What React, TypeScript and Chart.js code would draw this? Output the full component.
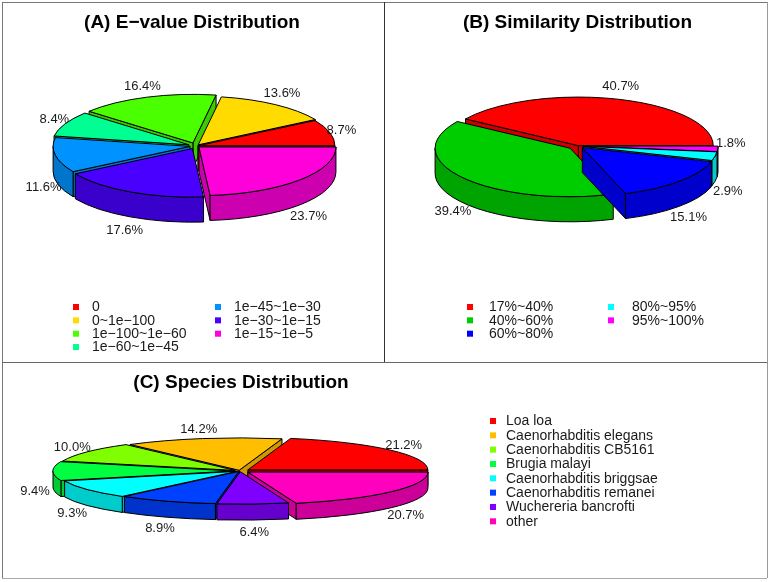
import React, { useEffect, useRef } from "react";
import { Chart, registerables } from "chart.js";

Chart.register(...registerables);

const FONT = '"Liberation Sans", Arial, sans-serif';

// (A) E-value
const evalueLabels = ["0", "0~1e−100", "1e−100~1e−60", "1e−60~1e−45", "1e−45~1e−30", "1e−30~1e−15", "1e−15~1e−5"];
const evalueValues = [8.7, 13.6, 16.4, 8.4, 11.6, 17.6, 23.7];
const evalueColors = ["#FF0000", "#FFDB00", "#49FF00", "#00FF92", "#0092FF", "#4900FF", "#FF00DB"];
const evalueExplode = [2, 4, 9, 8, 6, 8, 4];

// (B) Similarity
const similarityLabels = ["17%~40%", "40%~60%", "60%~80%", "80%~95%", "95%~100%"];
const similarityValues = [40.7, 39.4, 15.1, 2.9, 1.8];
const similarityColors = ["#FF0000", "#00CD00", "#0000FF", "#00FFFF", "#FF00FF"];
const similarityExplode = [1, 10, 6, 5, 5];

// (C) Species
const speciesLabels = ["Loa loa", "Caenorhabditis elegans", "Caenorhabditis CB5161", "Brugia malayi", "Caenorhabditis briggsae", "Caenorhabditis remanei", "Wuchereria bancrofti", "other"];
const speciesValues = [21.2, 14.2, 10.0, 9.4, 9.3, 8.9, 6.4, 20.7];
const speciesColors = ["#FF0000", "#FFBF00", "#80FF00", "#00FF40", "#00FFFF", "#0040FF", "#8000FF", "#FF00BF"];
const speciesExplode = [10, 4, 6, 7, 4, 3, 4, 10];

function darker(hex: string) {
  const n = parseInt(hex.slice(1), 16);
  const f = (v: number) => Math.round(v * 0.8);
  return `rgb(${f((n >> 16) & 255)},${f((n >> 8) & 255)},${f(n & 255)})`;
}

const pie3d = {
  id: "pie3d",
  beforeDatasetsDraw(chart: any, _args: any, o: any) {
    const ctx: CanvasRenderingContext2D = chart.ctx;
    const arcs = chart.getDatasetMeta(0).data.map((el: any, i: number) => {
      const a1 = el.startAngle;
      const a2 = el.endAngle;
      return { i, a1, a2, mid: (a1 + a2) / 2, off: el.options.offset || 0, color: el.options.backgroundColor };
    });
    const ry = o.rx * o.k;
    const sorted = [...arcs].sort((p: any, q: any) => Math.sin(q.mid) - Math.sin(p.mid));
    ctx.save();
    ctx.lineWidth = 1;
    ctx.strokeStyle = "#000";
    ctx.lineJoin = "round";
    for (const s of sorted) {
      const x = o.cx + Math.cos(s.mid) * s.off;
      const y = o.cy - Math.sin(s.mid) * s.off * o.k;
      const px = (a: number) => x + o.rx * Math.cos(a);
      const py = (a: number) => y - ry * Math.sin(a);
      const dark = darker(s.color);
      const radial = (a: number) => {
        ctx.beginPath();
        ctx.moveTo(x, y);
        ctx.lineTo(px(a), py(a));
        ctx.lineTo(px(a), py(a) + o.depth);
        ctx.lineTo(x, y + o.depth);
        ctx.closePath();
        ctx.fillStyle = dark;
        ctx.fill();
        ctx.stroke();
      };
      if (Math.cos(s.a1) > 0) radial(s.a1);
      if (Math.cos(s.a2) < 0) radial(s.a2);
      const lo = Math.max(s.a1, Math.PI);
      const hi = s.a2;
      if (hi > lo) {
        ctx.beginPath();
        ctx.ellipse(x, y, o.rx, ry, 0, -lo, -hi, true);
        ctx.lineTo(px(hi), py(hi) + o.depth);
        ctx.ellipse(x, y + o.depth, o.rx, ry, 0, -hi, -lo, false);
        ctx.closePath();
        ctx.fillStyle = dark;
        ctx.fill();
        ctx.stroke();
      }
      ctx.beginPath();
      ctx.moveTo(x, y);
      ctx.ellipse(x, y, o.rx, ry, 0, -s.a1, -s.a2, true);
      ctx.closePath();
      ctx.fillStyle = s.color;
      ctx.fill();
      ctx.stroke();
    }
    // percentage labels
    ctx.fillStyle = "#1a1a1a";
    ctx.font = `13px ${FONT}`;
    ctx.textAlign = "center";
    ctx.textBaseline = "middle";
    const values = chart.data.datasets[0].data;
    for (const s of arcs) {
      const sin = Math.sin(s.mid);
      const lx = o.cx + (o.labelRx + s.off) * Math.cos(s.mid);
      const ly = o.cy - o.labelRy * sin + (sin < 0 ? o.depth : 0) + 1.5;
      const n = (o.labelNudge && o.labelNudge[s.i]) || 0;
      ctx.fillText(values[s.i].toFixed(1) + "%", lx, ly + n);
    }
    // legend
    const labels = chart.data.labels;
    const colors = chart.data.datasets[0].backgroundColor;
    ctx.font = `14px ${FONT}`;
    ctx.textAlign = "left";
    let idx = 0;
    for (const col of o.legend.columns) {
      for (let r = 0; r < col.count; r++, idx++) {
        const ty = o.legend.y + r * o.legend.dy;
        ctx.fillStyle = colors[idx];
        ctx.fillRect(col.marker - 3, ty - 3, 6, 6);
        ctx.fillStyle = "#1a1a1a";
        ctx.fillText(labels[idx], col.text, ty + 0.5);
      }
    }
    ctx.restore();
    return false;
  },
};

function build(canvas: HTMLCanvasElement, title: string, labels: string[], values: number[], colors: string[], explode: number[], titleTop: number, paddingRight: number, geometry: any) {
  return new Chart(canvas, {
    type: "pie",
    data: {
      labels,
      datasets: [{ data: values, backgroundColor: colors, offset: explode, borderWidth: 0 }],
    },
    options: {
      responsive: false,
      animation: false,
      rotation: 90,
      layout: { padding: { right: paddingRight } },
      plugins: {
        legend: { display: false },
        tooltip: { enabled: false },
        title: {
          display: true,
          text: title,
          color: "#000",
          font: { family: FONT, size: 19, weight: "bold" },
          padding: { top: titleTop, bottom: 4 },
        },
        pie3d: geometry,
      },
    } as any,
    plugins: [pie3d],
  } as any);
}

export default function App() {
  const a = useRef<HTMLCanvasElement>(null);
  const b = useRef<HTMLCanvasElement>(null);
  const c = useRef<HTMLCanvasElement>(null);
  useEffect(() => {
    const charts = [
      build(a.current!, "(A) E−value Distribution", evalueLabels, evalueValues, evalueColors, evalueExplode, 11, 0, {
        cx: 196, cy: 146, rx: 137, k: 0.355, depth: 25, labelRx: 149, labelRy: 65,
        labelNudge: [0, 0, 0, 0, 3, 0, 0],
        legend: { y: 307, dy: 13.35, columns: [{ marker: 76, text: 92, count: 4 }, { marker: 218, text: 234, count: 3 }] },
      }),
      build(b.current!, "(B) Similarity Distribution", similarityLabels, similarityValues, similarityColors, similarityExplode, 11, 0, {
        cx: 193, cy: 146, rx: 135, k: 0.36, depth: 25, labelRx: 148, labelRy: 64,
        labelNudge: [0, 0, 0, 6, -33],
        legend: { y: 307, dy: 13.35, columns: [{ marker: 85, text: 104, count: 3 }, { marker: 226, text: 247, count: 2 }] },
      }),
      build(c.current!, "(C) Species Distribution", speciesLabels, speciesValues, speciesColors, speciesExplode, 9, 288, {
        cx: 240, cy: 109, rx: 180, k: 0.18, depth: 16, labelRx: 198, labelRy: 44,
        labelNudge: [0, 0, 0, 3, 0, 0, 0, 0],
        legend: { y: 59, dy: 14.33, columns: [{ marker: 493, text: 506, count: 8 }] },
      }),
    ];
    return () => charts.forEach((ch) => ch.destroy());
  }, []);
  const line = (left: number, top: number, width: number, height: number, background: string) => (
    <div style={{ position: "absolute", left, top, width, height, background }} />
  );
  return (
    <div style={{ position: "fixed", left: 0, top: 0, width: 770, height: 582, background: "#fff", overflow: "hidden" }}>
      <canvas ref={a} width={384} height={362} style={{ position: "absolute", left: 0, top: 0 }} />
      <canvas ref={b} width={385} height={362} style={{ position: "absolute", left: 385, top: 0 }} />
      <canvas ref={c} width={770} height={220} style={{ position: "absolute", left: 0, top: 362 }} />
      {line(2, 2, 765, 1, "#777")}
      {line(2, 2, 1, 576, "#777")}
      {line(767, 2, 1, 576, "#999")}
      {line(2, 578, 765, 1, "#aaa")}
      {line(2, 362, 765, 1, "#666")}
      {line(384, 2, 1, 360, "#333")}
    </div>
  );
}
